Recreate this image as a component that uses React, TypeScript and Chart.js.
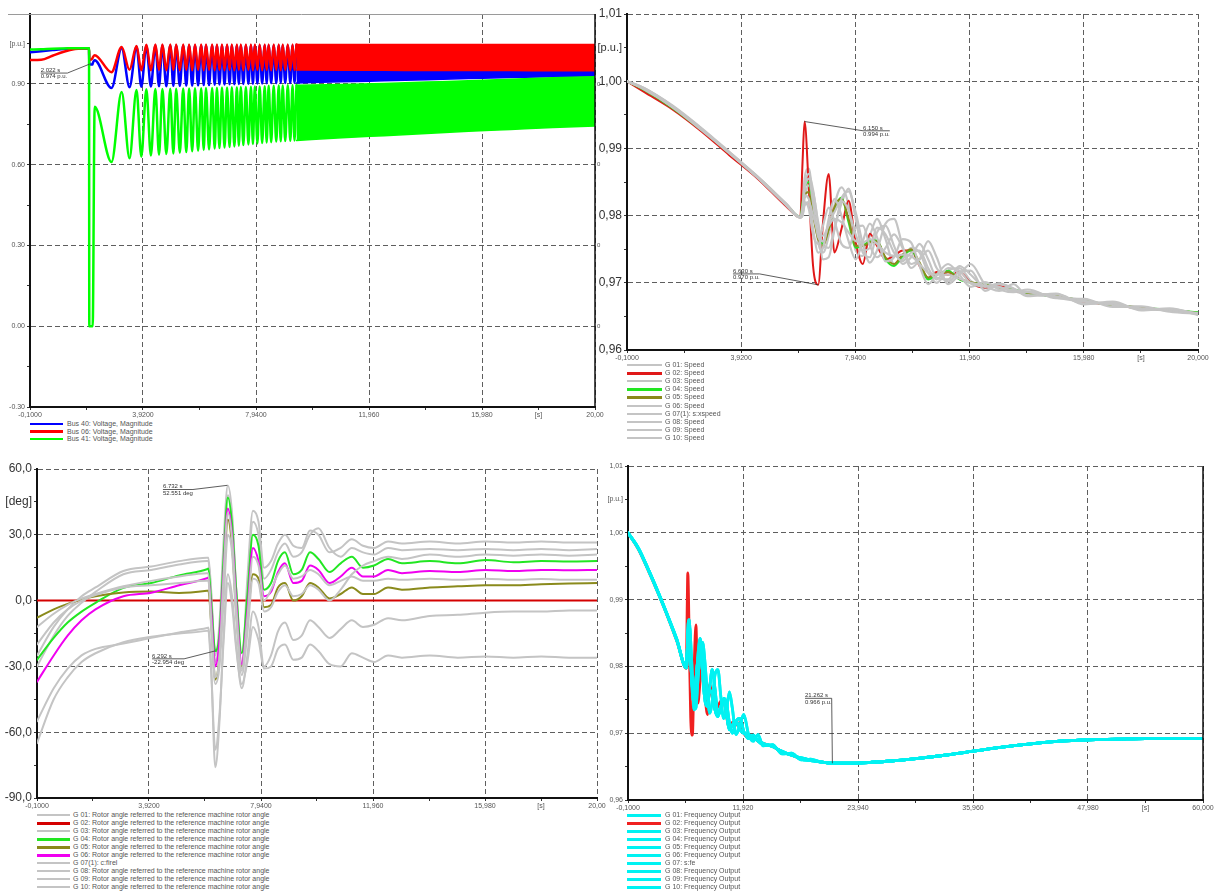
import React, { useEffect, useRef } from "react";
import { Chart, registerables } from "chart.js";

Chart.register(...registerables);

const FONT = '"Liberation Sans", Arial, Helvetica, sans-serif';

// ================= Top-left: bus voltage magnitudes =================
const tlTime = [-0.1, 0.3, 0.7, 1.1, 1.5, 2.0, 2.01, 2.12, 2.13, 2.2,
  2.8, 3.16, 3.44, 3.69, 3.86, 4.04, 4.2, 4.36, 4.49, 4.61,
  4.75, 4.89, 5.0, 5.1, 5.23, 5.35, 5.46, 5.56, 5.67, 5.77,
  5.88, 5.99, 6.08, 6.16, 6.27, 6.38, 6.47, 6.55, 6.64, 6.73,
  6.82, 6.91, 7.0, 7.08, 7.17, 7.26, 7.33, 7.4, 7.49, 7.58,
  7.67, 7.76, 7.83, 7.9, 7.99, 8.07, 8.16, 8.25, 8.32, 8.39,
  8.48, 8.57, 8.66, 8.75, 8.82, 8.89, 8.98, 9.07, 9.16, 9.24,
  9.31, 9.38];
const tlBus40 = [1.018, 1.022, 1.026, 1.03, 1.032, 1.033, 0.974, 0.972, 0.976, 0.988,
  0.885, 1.033, 0.888, 1.038, 0.89, 1.042, 0.891, 1.043, 0.892, 1.043,
  0.892, 1.043, 0.893, 1.043, 0.893, 1.043, 0.894, 1.043, 0.894, 1.043,
  0.895, 1.043, 0.896, 1.043, 0.896, 1.043, 0.897, 1.043, 0.898, 1.043,
  0.898, 1.043, 0.899, 1.043, 0.899, 1.043, 0.9, 1.043, 0.9, 1.043,
  0.901, 1.043, 0.901, 1.043, 0.902, 1.043, 0.902, 1.043, 0.903, 1.043,
  0.903, 1.043, 0.903, 1.043, 0.904, 1.043, 0.904, 1.043, 0.904, 1.043,
  0.904, 1.043];
const tlBus06 = [0.989, 0.99, 1.005, 1.02, 1.03, 1.033, 0.99, 0.995, 0.998, 1.007,
  0.944, 1.037, 0.953, 1.041, 0.951, 1.046, 0.951, 1.047, 0.952, 1.047,
  0.951, 1.047, 0.952, 1.047, 0.951, 1.047, 0.952, 1.047, 0.951, 1.047,
  0.952, 1.047, 0.951, 1.047, 0.952, 1.047, 0.951, 1.047, 0.952, 1.047,
  0.951, 1.047, 0.952, 1.047, 0.951, 1.047, 0.952, 1.047, 0.951, 1.047,
  0.952, 1.047, 0.951, 1.047, 0.952, 1.047, 0.951, 1.047, 0.952, 1.047,
  0.951, 1.047, 0.952, 1.047, 0.951, 1.047, 0.952, 1.047, 0.951, 1.047,
  0.952, 1.047];
const tlBus41 = [1.028, 1.029, 1.031, 1.032, 1.033, 1.033, 0, 0, 0, 0.815,
  0.61, 0.87, 0.624, 0.878, 0.63, 0.88, 0.634, 0.881, 0.637, 0.881,
  0.64, 0.882, 0.642, 0.882, 0.645, 0.883, 0.647, 0.883, 0.65, 0.884,
  0.652, 0.884, 0.655, 0.885, 0.657, 0.885, 0.66, 0.886, 0.662, 0.887,
  0.664, 0.887, 0.666, 0.888, 0.668, 0.888, 0.671, 0.889, 0.673, 0.889,
  0.675, 0.89, 0.677, 0.891, 0.679, 0.891, 0.681, 0.892, 0.683, 0.893,
  0.684, 0.893, 0.686, 0.894, 0.687, 0.894, 0.688, 0.895, 0.689, 0.895,
  0.69, 0.895];
// dense oscillation after ~9.4 s drawn as envelope bands
const tlBandTime = [9.38, 11, 12.5, 14, 15.5, 17, 18.5, 20];
const tlBus40Hi = [1.043, 1.043, 1.043, 1.043, 1.043, 1.043, 1.043, 1.043];
const tlBus40Lo = [0.904, 0.908, 0.912, 0.916, 0.92, 0.924, 0.927, 0.93];
const tlBus06Hi = [1.047, 1.047, 1.047, 1.047, 1.047, 1.047, 1.047, 1.047];
const tlBus06Lo = [0.952, 0.951, 0.951, 0.95, 0.95, 0.95, 0.949, 0.949];
const tlBus41Hi = [0.895, 0.898, 0.902, 0.907, 0.912, 0.918, 0.923, 0.927];
const tlBus41Lo = [0.69, 0.7, 0.708, 0.716, 0.724, 0.731, 0.738, 0.744];
const tlNames = ["Bus 40: Voltage, Magnitude", "Bus 06: Voltage, Magnitude", "Bus 41: Voltage, Magnitude"];
const tlYMajor = [-0.3, 0, 0.3, 0.6, 0.9];
const tlYLabels = ["-0.30", "0.00", "0.30", "0.60", "0.90"];
const tlYMinor = [-0.15, 0.15, 0.45, 0.75, 1.05];
const tlRightVals = [0.9, 0.6, 0.3, 0];
const tlRightText = ["0", "0", "0", "0"];

// shared 20 s time axis ticks
const x20Major = [-0.1, 3.92, 7.94, 11.96, 15.98, 20.0];
const x20Minor = [1.91, 5.93, 9.95, 13.97, 17.99];
const x20LabelsA = ["-0,1000", "3,9200", "7,9400", "11,960", "15,980", "20,00"];
const x20LabelsB = ["-0,1000", "3,9200", "7,9400", "11,960", "15,980", "20,000"];

// ================= Top-right: generator speeds =================
const trTime = [-0.1, 0.5, 1.5, 2.5, 3.5, 4.5, 5.5, 6.0, 6.08, 6.15, 6.3, 6.45, 6.63, 6.8, 7.0, 7.2, 7.45, 7.7, 7.95, 8.2, 8.45, 8.7, 9.0, 9.3, 9.6, 9.9, 10.2, 10.5, 10.8, 11.2, 11.6, 12.0, 12.5, 13.0, 13.5, 14, 15, 16, 17, 18, 19, 20];
const trG01 = [1.0, 0.9989, 0.9962, 0.9929, 0.9893, 0.9857, 0.9817, 0.9798, 0.981, 0.9855, 0.987, 0.982, 0.976, 0.9745, 0.977, 0.9815, 0.9842, 0.9815, 0.9748, 0.974, 0.977, 0.9795, 0.9765, 0.9728, 0.9735, 0.9752, 0.9745, 0.9715, 0.97, 0.9718, 0.9722, 0.9703, 0.9692, 0.9697, 0.9688, 0.9683, 0.9681, 0.9671, 0.9668, 0.9661, 0.9659, 0.9655];
const trG02 = [1.0, 0.9984, 0.9958, 0.9926, 0.989, 0.9855, 0.9814, 0.9797, 0.988, 0.994, 0.984, 0.9725, 0.9697, 0.979, 0.9862, 0.9745, 0.978, 0.9822, 0.976, 0.9728, 0.9773, 0.9755, 0.9735, 0.974, 0.9748, 0.9748, 0.9725, 0.9707, 0.9716, 0.9712, 0.9716, 0.97, 0.9693, 0.9695, 0.9688, 0.9685, 0.968, 0.9672, 0.9667, 0.9662, 0.966, 0.9655];
const trG03 = [1.0, 0.999, 0.9963, 0.993, 0.9894, 0.9858, 0.9818, 0.9798, 0.98, 0.9825, 0.9845, 0.9835, 0.979, 0.9755, 0.9752, 0.978, 0.9818, 0.984, 0.9795, 0.9745, 0.9738, 0.9775, 0.9785, 0.9755, 0.9728, 0.9738, 0.9758, 0.9735, 0.9708, 0.9705, 0.9725, 0.9712, 0.9694, 0.9699, 0.9691, 0.9684, 0.9679, 0.9674, 0.9666, 0.9664, 0.9658, 0.9656];
const trG04 = [1.0, 0.9987, 0.996, 0.9928, 0.9893, 0.9857, 0.9817, 0.9798, 0.982, 0.984, 0.985, 0.981, 0.9768, 0.9758, 0.978, 0.981, 0.9827, 0.979, 0.9752, 0.9755, 0.9762, 0.9763, 0.9735, 0.9725, 0.974, 0.9748, 0.9728, 0.9705, 0.9712, 0.9718, 0.9705, 0.97, 0.9698, 0.9692, 0.969, 0.9685, 0.968, 0.9673, 0.9667, 0.9663, 0.966, 0.9656];
const trG05 = [1.0, 0.9988, 0.9961, 0.9929, 0.9894, 0.9857, 0.9817, 0.9797, 0.981, 0.983, 0.9835, 0.98, 0.9765, 0.9755, 0.978, 0.9812, 0.9825, 0.9795, 0.9755, 0.9755, 0.976, 0.9762, 0.9738, 0.9728, 0.9742, 0.975, 0.973, 0.9708, 0.9713, 0.9716, 0.9706, 0.9701, 0.9697, 0.9693, 0.9689, 0.9685, 0.968, 0.9673, 0.9667, 0.9663, 0.9659, 0.9655];
const trG06 = [1.0, 0.9988, 0.9962, 0.9929, 0.9894, 0.9857, 0.9816, 0.9797, 0.9805, 0.983, 0.9825, 0.978, 0.9745, 0.9752, 0.9795, 0.9825, 0.98, 0.9762, 0.9735, 0.9762, 0.9788, 0.9768, 0.9732, 0.9738, 0.9765, 0.976, 0.9725, 0.9698, 0.9712, 0.9728, 0.9712, 0.9694, 0.9701, 0.969, 0.9686, 0.969, 0.9677, 0.9676, 0.9664, 0.9665, 0.9657, 0.9654];
const trG07 = [1.0, 0.9989, 0.9961, 0.9928, 0.9893, 0.9856, 0.9816, 0.9797, 0.98, 0.9815, 0.982, 0.98, 0.9775, 0.977, 0.9785, 0.9795, 0.979, 0.9775, 0.9762, 0.976, 0.9765, 0.9758, 0.9745, 0.974, 0.9742, 0.974, 0.9728, 0.9715, 0.9712, 0.9712, 0.9706, 0.97, 0.9696, 0.9693, 0.9689, 0.9686, 0.968, 0.9673, 0.9667, 0.9662, 0.9659, 0.9655];
const trG08 = [1.0, 0.999, 0.9964, 0.9931, 0.9895, 0.9858, 0.9818, 0.9798, 0.9815, 0.9845, 0.9862, 0.9838, 0.9785, 0.9735, 0.9738, 0.9778, 0.9825, 0.9836, 0.9805, 0.9758, 0.973, 0.9748, 0.9788, 0.9795, 0.9755, 0.9722, 0.9735, 0.9762, 0.9738, 0.9698, 0.9712, 0.9728, 0.9698, 0.9688, 0.9698, 0.9681, 0.9683, 0.9669, 0.967, 0.966, 0.9661, 0.9654];
const trG09 = [1.0, 0.9989, 0.9963, 0.993, 0.9894, 0.9857, 0.9817, 0.9797, 0.9808, 0.9838, 0.9855, 0.9818, 0.9768, 0.9762, 0.9788, 0.9805, 0.9822, 0.9808, 0.9772, 0.9748, 0.9752, 0.9782, 0.9772, 0.9745, 0.9732, 0.9745, 0.9748, 0.9722, 0.9705, 0.9722, 0.9718, 0.9699, 0.9695, 0.9694, 0.9687, 0.9687, 0.9678, 0.9672, 0.9669, 0.9661, 0.966, 0.9653];
const trG10 = [1.0, 0.9988, 0.9962, 0.993, 0.9893, 0.9857, 0.9816, 0.9797, 0.9802, 0.982, 0.981, 0.9772, 0.9758, 0.9785, 0.9812, 0.9792, 0.9758, 0.9752, 0.9782, 0.9785, 0.9755, 0.9738, 0.9752, 0.9772, 0.9752, 0.9728, 0.9735, 0.9748, 0.9722, 0.9702, 0.9716, 0.9718, 0.9688, 0.9698, 0.9692, 0.968, 0.9684, 0.9668, 0.9672, 0.9659, 0.9662, 0.9652];
const trNames = ["G 01: Speed", "G 02: Speed", "G 03: Speed", "G 04: Speed", "G 05: Speed", "G 06: Speed", "G 07(1): s:xspeed", "G 08: Speed", "G 09: Speed", "G 10: Speed"];
const freqYMajor = [0.96, 0.97, 0.98, 0.99, 1.0, 1.01];
const freqYLabels = ["0,96", "0,97", "0,98", "0,99", "1,00", "1,01"];
const freqYMinor = [0.965, 0.975, 0.985, 0.995, 1.005];

// ================= Bottom-left: rotor angles [deg] =================
const blTime = [-0.1, 0.5, 1.0, 1.5, 2.0, 3.0, 4.0, 5.0, 6.0, 6.05, 6.15, 6.3, 6.45, 6.6, 6.75, 6.9, 7.05, 7.25, 7.45, 7.65, 7.85, 8.05, 8.3, 8.55, 8.8, 9.1, 9.4, 9.7, 10.0, 10.4, 10.8, 11.2, 11.6, 12.0, 12.5, 13, 14, 15, 16, 17, 18, 19, 20];
const blG01 = [-25, -12, -4, 2, 6, 13.5, 15.5, 18, 19.5, 19.5, 5, -25, -10, 28, 52.5, 40, 5, -30, 10, 41, 36, 15, 18, 26, 30, 25, 24, 32, 30, 22, 24, 28, 25, 24, 27, 26, 27, 26, 27, 26.5, 27, 26.5, 26.5];
const blG02 = [0, 0, 0, 0, 0, 0, 0, 0, 0, 0, 0, 0, 0, 0, 0, 0, 0, 0, 0, 0, 0, 0, 0, 0, 0, 0, 0, 0, 0, 0, 0, 0, 0, 0, 0, 0, 0, 0, 0, 0, 0, 0, 0];
const blG03 = [-30, -16, -7, -1, 4, 12, 14, 16.5, 18, 18, 3, -28, -15, 22, 48, 38, 5, -32, 5, 36, 30, 10, 14, 22, 26, 20, 22, 30, 33, 24, 20, 24, 22, 21, 24, 23, 23.5, 23, 23.5, 23, 23.5, 23, 23.5];
const blG04 = [-27, -17, -10, -5, -1, 5.8, 8, 11.5, 14.3, 14.6, 0, -23, -15, 20, 47, 35, 5, -24, 2, 30, 25, 5, 8, 18, 22, 12, 14, 22, 19, 13, 17, 20, 15, 16, 19, 17, 18, 17, 18.5, 17.5, 18, 17.8, 18];
const blG05 = [-7.8, -4, -1.5, 0.5, 2, 3.7, 4.1, 3.5, 4.5, 4.6, -10, -36, -25, 8, 37, 25, -5, -30, -10, 12, 10, -3, -2, 6, 8, 0, 2, 8, 6, 1, 3, 6, 3, 3, 6, 5, 6, 6.5, 7, 7, 7.5, 7.8, 8];
const blG06 = [-37, -25, -16, -9, -4, 2, 3.6, 7, 10.2, 10.5, -4, -30, -18, 14, 42, 30, 0, -29, -5, 24, 18, 2, 4, 13, 17, 8, 9, 16, 14, 8, 11, 15, 11, 11, 14, 12.5, 13.5, 13, 14, 13.5, 14, 13.8, 14];
const blG07 = [-20, -10, -4, 0, 2.5, 6, 7, 8, 9, 9, -8, -35, -25, 12, 40, 28, -3, -31, -8, 20, 16, 0, 5, 12, 16, 10, 11, 14, 12, 7, 9, 11, 9, 9, 10, 9.5, 10, 9.5, 10, 9.5, 9.8, 9.5, 9.5];
const blG08 = [-55, -40, -31, -25, -22, -19.6, -17, -14.5, -12.5, -12.3, -30, -76, -55, -15, 12, 2, -20, -40, -25, -5, -12, -30, -25, -14, -10, -18, -16, -9, -12, -17, -13, -9, -12, -11, -8, -9, -7, -6.5, -5.5, -5, -5, -4.5, -4.5];
const blG09 = [-65, -45, -35, -28, -24, -19, -16.5, -15, -13.8, -13.7, -32, -68, -52, -18, 8, -2, -22, -38, -28, -12, -18, -31, -30, -22, -20, -27, -26, -20, -23, -29, -30, -24, -26, -28, -25, -26, -25, -26, -25.5, -26, -25.5, -26, -26];
const blG10 = [-12, -6, -2, 1, 3, 6.5, 9, 11, 12.5, 12.5, -12, -38, -30, 0, 30, 22, -8, -34, -15, 10, 8, -5, -3, 4, 7, 2, 3, 7, 5, 0, 5, 12, 16, 18, 20, 19, 21, 20, 21, 20.5, 21, 20.5, 21];
const RA = "Rotor angle referred to the reference machine rotor angle";
const blNames = ["G 01: " + RA, "G 02: " + RA, "G 03: " + RA, "G 04: " + RA, "G 05: " + RA, "G 06: " + RA, "G 07(1): c:firel", "G 08: " + RA, "G 09: " + RA, "G 10: " + RA];
const blYMajor = [-90, -60, -30, 0, 30, 60];
const blYLabels = ["-90,0", "-60,0", "-30,0", "0,0", "30,0", "60,0"];
const blYMinor = [-75, -45, -15, 15, 45];

// ================= Bottom-right: frequency output (60 s) =================
const brTime = [-0.1, 1, 2, 3, 4, 5, 6.0, 6.08, 6.15, 6.3, 6.45, 6.63, 6.8, 7.0, 7.2, 7.45, 7.7, 7.95, 8.2, 8.45, 8.7, 9.0, 9.3, 9.6, 9.9, 10.2, 10.5, 10.8, 11.2, 11.6, 12.0, 12.5, 13.0, 13.5, 14, 15, 16, 17, 18, 19, 20, 21.3, 23, 25, 27, 30, 33, 36, 39, 42, 45, 48, 51, 54, 57, 60];
const brG02 = [1.0, 0.9975, 0.9944, 0.9911, 0.9876, 0.9838, 0.9797, 0.988, 0.994, 0.984, 0.9725, 0.9697, 0.979, 0.9862, 0.9745, 0.978, 0.9822, 0.976, 0.9728, 0.9773, 0.9755, 0.9735, 0.974, 0.9748, 0.9748, 0.9725, 0.9707, 0.9716, 0.9712, 0.9716, 0.97, 0.9693, 0.9695, 0.9688, 0.9685, 0.968, 0.9672, 0.9667, 0.9662, 0.966, 0.9657, 0.9655, 0.9655, 0.9656, 0.9658, 0.9662, 0.9667, 0.9673, 0.9679, 0.9684, 0.9688, 0.969, 0.9691, 0.9692, 0.9692, 0.9692];
const brCyanA = [1.0, 0.9976, 0.9945, 0.9912, 0.9877, 0.9839, 0.9798, 0.982, 0.984, 0.985, 0.981, 0.9768, 0.9758, 0.978, 0.981, 0.9827, 0.979, 0.9752, 0.9755, 0.9762, 0.9763, 0.9735, 0.9725, 0.974, 0.9748, 0.9728, 0.9705, 0.9712, 0.9718, 0.9705, 0.97, 0.9698, 0.9692, 0.969, 0.9685, 0.968, 0.9673, 0.9667, 0.9663, 0.966, 0.9657, 0.9655, 0.9655, 0.9656, 0.9658, 0.9662, 0.9667, 0.9673, 0.9679, 0.9684, 0.9688, 0.969, 0.9691, 0.9692, 0.9692, 0.9692];
const brCyanB = [1.0, 0.9977, 0.9946, 0.9913, 0.9877, 0.984, 0.9798, 0.981, 0.9855, 0.987, 0.982, 0.976, 0.9745, 0.977, 0.9815, 0.9842, 0.9815, 0.9748, 0.974, 0.977, 0.9795, 0.9765, 0.9728, 0.9735, 0.9752, 0.9745, 0.9715, 0.97, 0.9718, 0.9722, 0.9703, 0.9692, 0.9697, 0.9688, 0.9683, 0.9681, 0.9671, 0.9668, 0.9661, 0.9659, 0.9657, 0.9655, 0.9655, 0.9656, 0.9658, 0.9662, 0.9667, 0.9673, 0.9679, 0.9684, 0.9688, 0.969, 0.9691, 0.9692, 0.9692, 0.9692];
const brCyanC = [1.0, 0.9976, 0.9946, 0.9913, 0.9878, 0.9841, 0.9798, 0.9815, 0.9845, 0.9862, 0.9838, 0.9785, 0.9735, 0.9738, 0.9778, 0.9825, 0.9836, 0.9805, 0.9758, 0.973, 0.9748, 0.9788, 0.9795, 0.9755, 0.9722, 0.9735, 0.9762, 0.9738, 0.9698, 0.9712, 0.9728, 0.9698, 0.9688, 0.9698, 0.9681, 0.9683, 0.9669, 0.967, 0.966, 0.9661, 0.9657, 0.9655, 0.9655, 0.9656, 0.9658, 0.9662, 0.9667, 0.9673, 0.9679, 0.9684, 0.9688, 0.969, 0.9691, 0.9692, 0.9692, 0.9692];
const brNames = ["G 01: Frequency Output", "G 02: Frequency Output", "G 03: Frequency Output", "G 04: Frequency Output", "G 05: Frequency Output", "G 06: Frequency Output", "G 07: s:fe", "G 08: Frequency Output", "G 09: Frequency Output", "G 10: Frequency Output"];
const brSeries = [brCyanB, brG02, brCyanC, brCyanA, brCyanA, brCyanB, brCyanA, brCyanC, brCyanB, brCyanA];
const x60Major = [-0.1, 11.92, 23.94, 35.96, 47.98, 60.0];
const x60Minor = [5.91, 17.93, 29.95, 41.97, 53.99];
const x60Labels = ["-0,1000", "11,920", "23,940", "35,960", "47,980", "60,000"];

// ================= styles =================
const BLUE = "#0000ff";
const RED = "#ff0000";
const GREEN = "#00ff00";
const DRED = "#e01818";
const LGREEN = "#22e622";
const OLIVE = "#8a8a1c";
const MAGENTA = "#f000f0";
const GRAY = "#c4c4c4";
const CYAN = "#00f2f2";
const trColors = [GRAY, DRED, GRAY, LGREEN, OLIVE, GRAY, GRAY, GRAY, GRAY, GRAY];
const blColors = [GRAY, "#d40000", GRAY, LGREEN, OLIVE, MAGENTA, GRAY, GRAY, GRAY, GRAY];
const brColors = [CYAN, "#f02020", CYAN, CYAN, CYAN, CYAN, CYAN, CYAN, CYAN, CYAN];

const pts = (t: number[], v: number[]) => t.map((x, i) => ({ x, y: v[i] }));
const line = (label: string, t: number[], v: number[], color: string, width: number, order: number, extra: any = {}) => ({
  label, data: pts(t, v), borderColor: color, backgroundColor: color, borderWidth: width,
  pointRadius: 0, fill: false, order, ...extra,
});

type AxisSpec = { min: number; max: number; major: number[]; labels: string[]; minor: number[]; unitAt: number; unit: string; font: number; unitFont: number; color: string };
type Note = { t: number; v: number; tx: number; tv: number; lines: string[] };
type PanelSpec = {
  box: { left: number; top: number; width: number; height: number };
  area: { left: number; top: number; right: number; bottom: number };
  x: AxisSpec; y: AxisSpec; datasets: any[]; notes: Note[];
  rightBorder?: boolean; topLineFrom?: number; rightVals?: number[]; rightText?: string[];
};

function axisOptions(a: AxisSpec, isX: boolean, size: number) {
  return {
    type: "linear", min: a.min, max: a.max, bounds: "data",
    afterBuildTicks: (s: any) => {
      const t: any[] = a.major.map((v, i) => ({ value: v, lab: a.labels[i], maj: true }));
      a.minor.forEach((v) => t.push({ value: v, lab: Math.abs(v - a.unitAt) < 1e-9 ? a.unit : "", maj: false }));
      t.sort((p, q) => p.value - q.value);
      s.ticks = t;
    },
    afterFit: (s: any) => {
      if (isX) s.height = size; else s.width = size;
      s.paddingLeft = 0; s.paddingRight = 0; s.paddingTop = 0; s.paddingBottom = 0;
    },
    ticks: {
      autoSkip: false, maxRotation: 0, minRotation: 0, padding: isX ? 1 : 2,
      font: (c: any) => ({ family: FONT, size: c.tick && !c.tick.maj ? a.unitFont : a.font }),
      color: a.color,
      callback: (_v: any, i: number, ticks: any[]) => ticks[i].lab,
    },
    grid: {
      drawOnChartArea: true, drawTicks: true, tickLength: 3, lineWidth: 1,
      color: (c: any) => (c.tick && c.tick.maj ? "#5e5e5e" : "rgba(0,0,0,0)"),
      tickColor: "#333", tickWidth: 1,
    },
    border: { display: true, color: "#111", width: 2, dash: [5, 3] },
  };
}

function buildConfig(s: PanelSpec): any {
  const padTop = s.area.top - s.box.top;
  const padRight = s.box.left + s.box.width - s.area.right;
  const yW = s.area.left - s.box.left;
  const xH = s.box.top + s.box.height - s.area.bottom;
  const extras = {
    id: "extras",
    afterDraw(chart: any) {
      const { ctx, chartArea: a, scales } = chart;
      const xs = scales.x, ys = scales.y;
      ctx.save();
      if (s.topLineFrom !== undefined) {
        ctx.strokeStyle = "#9a9a9a"; ctx.lineWidth = 1;
        ctx.beginPath(); ctx.moveTo(s.topLineFrom, a.top + 0.5); ctx.lineTo(a.right, a.top + 0.5); ctx.stroke();
      }
      if (s.rightBorder) {
        ctx.strokeStyle = "#111"; ctx.lineWidth = 1.5;
        ctx.beginPath(); ctx.moveTo(a.right, a.top); ctx.lineTo(a.right, a.bottom); ctx.stroke();
      }
      if (s.rightVals && s.rightText) {
        ctx.font = `6px ${FONT}`; ctx.fillStyle = "#555"; ctx.textBaseline = "middle"; ctx.textAlign = "left";
        s.rightVals.forEach((v, i) => ctx.fillText(s.rightText![i], a.right + 2, ys.getPixelForValue(v)));
      }
      ctx.font = `6px ${FONT}`; ctx.fillStyle = "#333"; ctx.textBaseline = "alphabetic"; ctx.textAlign = "left";
      ctx.strokeStyle = "#333"; ctx.lineWidth = 0.8;
      for (const n of s.notes) {
        const px = xs.getPixelForValue(n.t), py = ys.getPixelForValue(n.v);
        const lx = xs.getPixelForValue(n.tx), ly = ys.getPixelForValue(n.tv);
        ctx.fillText(n.lines[0], lx, ly);
        ctx.fillText(n.lines[1], lx, ly + 6.5);
        const w = Math.max(ctx.measureText(n.lines[0]).width, ctx.measureText(n.lines[1]).width);
        const uy = ly + 1.2;
        const ex = px < lx ? lx : lx + w;
        ctx.beginPath();
        ctx.moveTo(lx, uy); ctx.lineTo(lx + w, uy);
        ctx.moveTo(ex, uy); ctx.lineTo(px, py);
        ctx.stroke();
      }
      ctx.restore();
    },
  };
  return {
    type: "line",
    data: { datasets: s.datasets },
    options: {
      animation: false, responsive: false, maintainAspectRatio: false, events: [],
      layout: { padding: { left: 0, right: padRight, top: padTop, bottom: 0 } },
      plugins: { legend: { display: false }, tooltip: { enabled: false }, title: { display: false } },
      elements: { point: { radius: 0 }, line: { tension: 0, cubicInterpolationMode: "monotone", borderJoinStyle: "round", borderCapStyle: "round" } },
      scales: { x: axisOptions(s.x, true, xH), y: axisOptions(s.y, false, yW) },
    },
    plugins: [extras],
  };
}

function Panel({ spec }: { spec: PanelSpec }) {
  const ref = useRef<HTMLCanvasElement>(null);
  useEffect(() => {
    const chart = new Chart(ref.current as HTMLCanvasElement, buildConfig(spec));
    return () => chart.destroy();
  }, []);
  const b = spec.box;
  return (
    <canvas ref={ref} width={b.width} height={b.height}
      style={{ position: "absolute", left: b.left, top: b.top, width: b.width, height: b.height }} />
  );
}

function Legend({ left, top, step, sampleW, gap, names, colors, thick }: any) {
  return (
    <div style={{ position: "absolute", left, top }}>
      {names.map((n: string, i: number) => (
        <div key={i} style={{ position: "absolute", left: 0, top: i * step, height: step, display: "flex", alignItems: "center", whiteSpace: "nowrap" }}>
          <div style={{ width: sampleW, height: thick[i], background: colors[i] }} />
          <span style={{ marginLeft: gap, fontFamily: FONT, fontSize: 7, lineHeight: "8px", color: "#555" }}>{n}</span>
        </div>
      ))}
    </div>
  );
}

const x20 = (labels: string[]): AxisSpec => ({ min: -0.1, max: 20, major: x20Major, labels, minor: x20Minor, unitAt: 17.99, unit: "[s]", font: 7, unitFont: 7, color: "#555" });

const tlSpec: PanelSpec = {
  box: { left: 0, top: 0, width: 607, height: 420 },
  area: { left: 30, top: 14, right: 595, bottom: 407 },
  x: x20(x20LabelsA),
  y: { min: -0.3, max: 1.16, major: tlYMajor, labels: tlYLabels, minor: tlYMinor, unitAt: 1.05, unit: "[p.u.]", font: 7, unitFont: 7, color: "#555" },
  datasets: [
    line(tlNames[0], tlTime, tlBus40, BLUE, 2.5, 30),
    line(tlNames[0], tlBandTime, tlBus40Hi, BLUE, 1.5, 30, { fill: "+1" }),
    line(tlNames[0], tlBandTime, tlBus40Lo, BLUE, 1.5, 30),
    line(tlNames[1], tlTime, tlBus06, RED, 2.5, 20),
    line(tlNames[1], tlBandTime, tlBus06Hi, RED, 1.5, 20, { fill: "+1" }),
    line(tlNames[1], tlBandTime, tlBus06Lo, RED, 1.5, 20),
    line(tlNames[2], tlTime, tlBus41, GREEN, 2.5, 10),
    line(tlNames[2], tlBandTime, tlBus41Hi, GREEN, 1.5, 10, { fill: "+1" }),
    line(tlNames[2], tlBandTime, tlBus41Lo, GREEN, 1.5, 10),
  ],
  notes: [{ t: 2.022, v: 0.974, tx: 0.28, tv: 0.945, lines: ["2.022 s", "0.974 p.u."] }],
  rightBorder: true, topLineFrom: 8, rightVals: tlRightVals, rightText: tlRightText,
};

const trData = [trG01, trG02, trG03, trG04, trG05, trG06, trG07, trG08, trG09, trG10];
const trSpec: PanelSpec = {
  box: { left: 588, top: 0, width: 626, height: 362 },
  area: { left: 627, top: 14, right: 1198, bottom: 350 },
  x: x20(x20LabelsB),
  y: { min: 0.96, max: 1.01, major: freqYMajor, labels: freqYLabels, minor: freqYMinor, unitAt: 1.005, unit: "[p.u.]", font: 12, unitFont: 11, color: "#333" },
  datasets: trData.map((d, i) => line(trNames[i], trTime, d, trColors[i], trColors[i] === GRAY ? 2.2 : 2, 20 - i)),
  notes: [
    { t: 6.15, v: 0.994, tx: 8.21, tv: 0.9928, lines: ["6.150 s", "0.994 p.u."] },
    { t: 6.63, v: 0.9697, tx: 3.63, tv: 0.9715, lines: ["6.630 s", "0.970 p.u."] },
  ],
};

const blData = [blG01, blG02, blG03, blG04, blG05, blG06, blG07, blG08, blG09, blG10];
const blSpec: PanelSpec = {
  box: { left: 0, top: 455, width: 607, height: 356 },
  area: { left: 37, top: 469, right: 597, bottom: 798 },
  x: x20(x20LabelsA),
  y: { min: -90, max: 60, major: blYMajor, labels: blYLabels, minor: blYMinor, unitAt: 45, unit: "[deg]", font: 12, unitFont: 12, color: "#333" },
  datasets: blData.map((d, i) => line(blNames[i], blTime, d, blColors[i], 2, 20 - i)),
  notes: [
    { t: 6.732, v: 52.551, tx: 4.42, tv: 51.2, lines: ["6.732 s", "52.551 deg"] },
    { t: 6.292, v: -22.954, tx: 4.03, tv: -26.0, lines: ["6.292 s", "-22.954 deg"] },
  ],
};

const brSpec: PanelSpec = {
  box: { left: 600, top: 455, width: 614, height: 357 },
  area: { left: 628, top: 466, right: 1203, bottom: 800 },
  x: { min: -0.1, max: 60, major: x60Major, labels: x60Labels, minor: x60Minor, unitAt: 53.99, unit: "[s]", font: 7, unitFont: 7, color: "#555" },
  y: { min: 0.96, max: 1.01, major: freqYMajor, labels: freqYLabels, minor: freqYMinor, unitAt: 1.005, unit: "[p.u.]", font: 7, unitFont: 7, color: "#555" },
  datasets: brSeries.map((d, i) => line(brNames[i], brTime, d, brColors[i], 2.8, 20 - i)),
  notes: [{ t: 21.262, v: 0.9655, tx: 18.4, tv: 0.9754, lines: ["21.262 s", "0.966 p.u."] }],
  rightBorder: true,
};

export default function App() {
  const thick3 = [2.5, 2.5, 2.5];
  const trThick = trColors.map((c) => (c === GRAY ? 2 : 3));
  const blThick = blColors.map((c) => (c === GRAY ? 2 : 3));
  const brThick = brColors.map(() => 3);
  return (
    <div style={{ position: "absolute", left: 0, top: 0, width: 1214, height: 894, background: "#fff", overflow: "hidden" }}>
      <Panel spec={tlSpec} />
      <Panel spec={trSpec} />
      <Panel spec={blSpec} />
      <Panel spec={brSpec} />
      <Legend left={30} top={420} step={7.7} sampleW={33} gap={4} names={tlNames} colors={[BLUE, RED, GREEN]} thick={thick3} />
      <Legend left={627} top={361} step={8.1} sampleW={35} gap={3} names={trNames} colors={trColors} thick={trThick} />
      <Legend left={37} top={811} step={8} sampleW={33} gap={3} names={blNames} colors={blColors} thick={blThick} />
      <Legend left={627} top={811} step={8} sampleW={34} gap={4} names={brNames} colors={brColors} thick={brThick} />
    </div>
  );
}
